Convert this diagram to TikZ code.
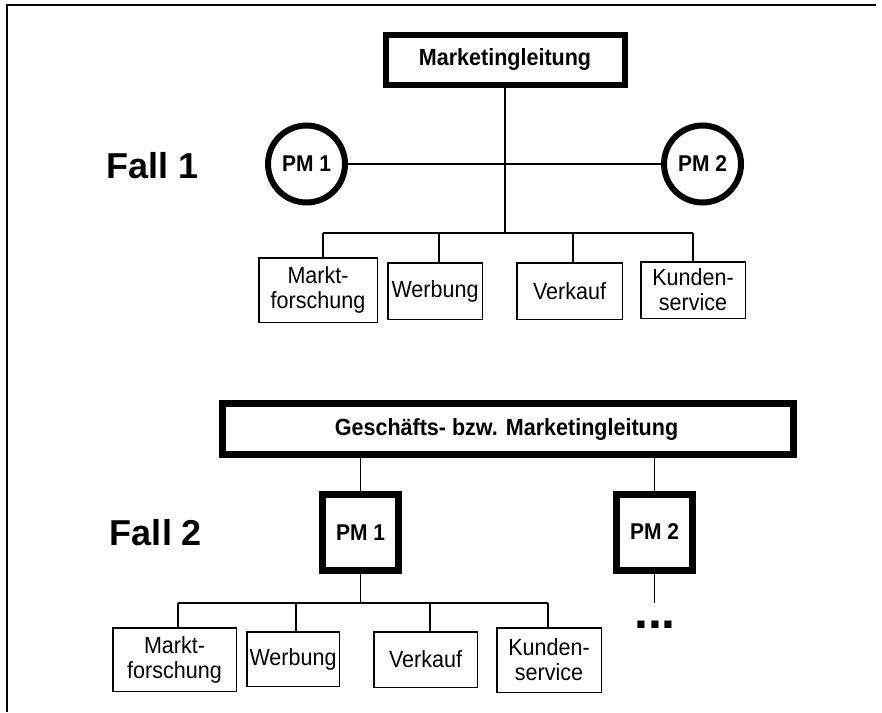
\documentclass[tikz,border=0pt]{standalone}
\usepackage{fontspec}
\setmainfont{Liberation Sans}
% slightly condensed face for the box labels
\newfontfamily\boxfont{Liberation Sans}[FakeStretch=0.92]
\begin{document}
\begin{tikzpicture}[x=1pt,y=-1pt,
  lead/.style={draw, line width=6pt, inner sep=0pt,
    font=\boxfont\fontsize{23.4}{26}\selectfont\bfseries},
  pmcircle/.style={circle, draw, line width=6pt, minimum size=77pt, inner sep=0pt,
    font=\boxfont\fontsize{22.8}{25}\selectfont\bfseries},
  pmbox/.style={draw, line width=7pt, minimum width=76pt, minimum height=76pt, inner sep=0pt,
    font=\boxfont\fontsize{22.8}{25}\selectfont\bfseries},
  dept/.style={draw, line width=1.5pt, inner sep=0pt, align=center,
    font=\boxfont\fontsize{23.4}{25}\selectfont},
  wire/.style={line width=1.6pt},
  caseLabel/.style={inner sep=0pt, font=\fontsize{36}{40}\selectfont\bfseries},
  ellip/.style={inner sep=0pt, font=\fontsize{50}{50}\selectfont\bfseries}]
\useasboundingbox (0,0) rectangle (882,712);

% outer frame (top and left edges)
\draw[line width=2pt] (876,5) -- (7,5) -- (7,712);

% ---------------- Fall 1 ----------------
\node[caseLabel, anchor=base] (fall1) at (152.5,178) {Fall 1};

\node[lead, minimum width=239pt, minimum height=50pt] (mlead) at (505,60) {Marketingleitung};

\node[pmcircle] (pm1a) at (306.5,164) {PM 1};
\node[pmcircle] (pm2a) at (702.5,164) {PM 2};

\node[dept, minimum width=118.5pt, minimum height=64.5pt] (markt1) at (318,290) {Markt-\\forschung};
\node[dept, minimum width=94.5pt, minimum height=56.5pt] (werb1) at (435,291) {Werbung};
\node[dept, minimum width=105.5pt, minimum height=56.5pt] (verk1) at (569.5,291) {Verkauf};
\node[dept, minimum width=104.5pt, minimum height=56.5pt] (kund1) at (693,290) {Kunden-\\service};

\coordinate (bus1) at (505,233);
\coordinate (d1a) at (323,233);
\coordinate (d1b) at (439,233);
\coordinate (d1c) at (573,233);
\coordinate (d1d) at (693,233);

\draw[wire] (mlead.south) -- (bus1);
\draw[wire] (pm1a.east) -- (pm2a.west);
\draw[wire] (d1a) -- (d1d);
\draw[wire] (d1a) -- (d1a |- markt1.north);
\draw[wire] (d1b) -- (d1b |- werb1.north);
\draw[wire] (d1c) -- (d1c |- verk1.north);
\draw[wire] (d1d) -- (kund1.north);

% ---------------- Fall 2 ----------------
\node[caseLabel, anchor=base] (fall2) at (156,545) {Fall 2};

\node[lead, line width=7pt, minimum width=571pt, minimum height=51pt] (glead) at (508,429)
  {\hspace*{-3pt}Geschäfts- bzw. Marketingleitung};

\node[pmbox] (pm1b) at (360.5,532.5) {PM 1};
\node[pmbox] (pm2b) at (654.5,532) {PM 2};

\node[dept, minimum width=123.5pt, minimum height=63.5pt] (markt2) at (174.5,659.5) {Markt-\\forschung};
\node[dept, minimum width=92.5pt, minimum height=54.5pt] (werb2) at (293,659) {Werbung};
\node[dept, minimum width=103.5pt, minimum height=55.5pt] (verk2) at (425.5,659.5) {Verkauf};
\node[dept, minimum width=104.5pt, minimum height=64.5pt] (kund2) at (549,660) {Kunden-\\service};

\coordinate (g1) at (360.5,458);
\coordinate (g2) at (654.5,458);
\coordinate (bus2) at (360.5,603);
\coordinate (d2a) at (178,603);
\coordinate (d2b) at (296,603);
\coordinate (d2c) at (430,603);
\coordinate (d2d) at (548,603);
\coordinate (tail2) at (654.5,603);

\draw[wire] (g1) -- (pm1b.north);
\draw[wire] (g2) -- (pm2b.north);
\draw[wire] (pm1b.south) -- (bus2);
\draw[wire] (pm2b.south) -- (tail2);
\draw[wire] (d2a) -- (d2d);
\draw[wire] (d2a) -- (d2a |- markt2.north);
\draw[wire] (d2b) -- (d2b |- werb2.north);
\draw[wire] (d2c) -- (d2c |- verk2.north);
\draw[wire] (d2d) -- (d2d |- kund2.north);

\node[ellip, anchor=base] (more) at (655,628) {...};
\end{tikzpicture}
\end{document}
